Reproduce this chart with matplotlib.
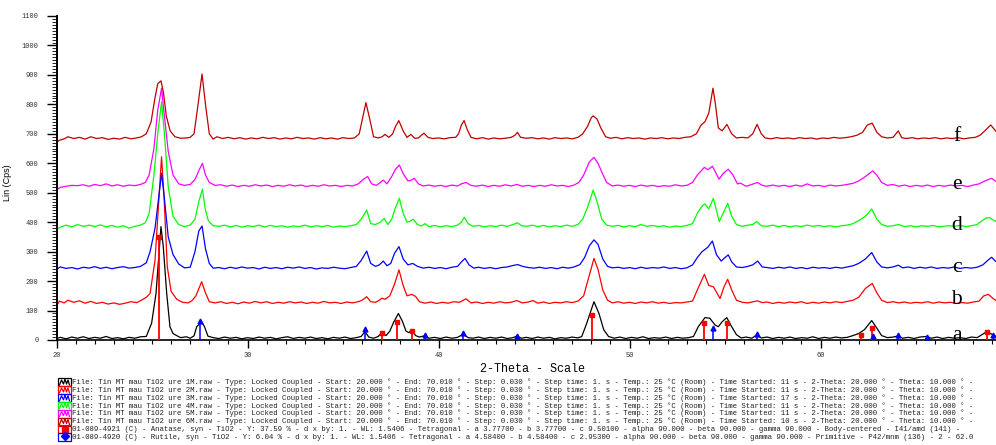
import matplotlib
matplotlib.use('Agg')
import matplotlib.pyplot as plt
from matplotlib.ticker import MultipleLocator, FixedLocator
from matplotlib.patches import Rectangle
from matplotlib.lines import Line2D

# --- Данные (2-Theta, Lin (Cps)) ---
x_a = [20.0, 20.2, 20.5, 20.8, 21.1, 21.4, 21.7, 22.0, 22.3, 22.6, 22.9, 23.2, 23.5, 23.8, 24.1, 24.4, 24.7,
       24.98, 25.21, 25.47, 25.59, 25.77, 25.94, 26.1, 26.29, 26.5, 26.8, 27.0, 27.2, 27.34, 27.6, 27.75, 27.93,
       28.2, 28.5, 28.8, 29.1, 29.4, 29.7, 30.0, 30.3, 30.6, 30.9, 31.2, 31.5, 31.8, 32.1, 32.4, 32.7, 33.0,
       33.3, 33.6, 33.9, 34.2, 34.5, 34.8, 35.1, 35.4, 35.7, 35.95, 36.15, 36.35, 36.6, 36.85, 37.03, 37.25,
       37.45, 37.65, 37.9, 38.1, 38.3, 38.45, 38.6, 38.8, 39.0, 39.25, 39.5, 39.8, 40.1, 40.4, 40.7, 41.0,
       41.3, 41.55, 41.8, 42.1, 42.4, 42.7, 43.0, 43.3, 43.6, 43.9, 44.1, 44.35, 44.6, 44.9, 45.2, 45.5, 45.8,
       46.1, 46.4, 46.7, 47.0, 47.3, 47.5, 47.75, 48.14, 48.4, 48.65, 48.9, 49.2, 49.5, 49.8, 50.1, 50.4,
       50.7, 51.0, 51.3, 51.6, 51.9, 52.2, 52.5, 52.8, 53.1, 53.35, 53.6, 53.95, 54.2, 54.48, 54.65, 54.85,
       55.09, 55.35, 55.6, 55.85, 56.1, 56.4, 56.66, 56.9, 57.2, 57.5, 57.8, 58.1, 58.4, 58.7, 59.0, 59.3,
       59.6, 59.9, 60.2, 60.5, 60.8, 61.1, 61.4, 61.7, 62.0, 62.3, 62.68, 62.95, 63.2, 63.5, 63.8, 64.07,
       64.3, 64.6, 64.9, 65.2, 65.55, 65.8, 66.1, 66.4, 66.7, 67.0, 67.3, 67.6, 67.9, 68.2, 68.45, 68.7,
       68.9, 69.1, 69.3]
y_a = [5, 9, 4, 10, 6, 11, 5, 9, 6, 12, 5, 8, 4, 9, 6, 11, 12,
       57, 158, 385, 317, 158, 45, 22, 15, 8, 11, 6, 14, 45, 62, 45, 13,
       8, 5, 10, 6, 9, 4, 8, 5, 10, 6, 9, 4, 8, 11, 5, 9, 6,
       10, 5, 8, 4, 9, 6, 10, 5, 8, 12, 28, 10, 6, 12, 25, 15,
       30, 60, 90, 65, 30, 25, 34, 15, 10, 14, 6, 9, 5, 10, 6, 9,
       20, 8, 6, 10, 5, 9, 6, 10, 5, 8, 13, 6, 9, 5, 10, 6, 9,
       4, 8, 6, 10, 7, 12, 55, 130, 90, 35, 12, 6, 10, 5, 9, 6,
       11, 5, 8, 6, 10, 5, 9, 6, 8, 12, 45, 76, 74, 51, 45, 62,
       76, 45, 18, 7, 10, 6, 17, 7, 10, 5, 9, 6, 10, 5, 8, 6,
       11, 5, 9, 6, 10, 7, 9, 15, 22, 35, 66, 40, 15, 8, 10, 14,
       6, 9, 5, 10, 12, 6, 10, 5, 9, 6, 8, 5, 10, 8, 18, 28,
       22, 15, 10]

x_b = [20.0, 20.15, 20.4, 20.6, 20.9, 21.2, 21.5, 21.8, 22.1, 22.4, 22.7, 23.0, 23.3, 23.6, 23.9, 24.2, 24.45,
       24.7, 24.9, 25.16, 25.38, 25.5, 25.62, 25.8, 26.0, 26.3, 26.6, 26.9, 27.1, 27.3, 27.6, 27.8, 28.0,
       28.3, 28.6, 28.9, 29.2, 29.5, 29.8, 30.1, 30.4, 30.7, 31.0, 31.3, 31.6, 31.9, 32.2, 32.5, 32.8, 33.1,
       33.4, 33.7, 34.0, 34.3, 34.6, 34.9, 35.2, 35.5, 35.8, 36.0, 36.24, 36.45, 36.7, 36.9, 37.03, 37.2,
       37.45, 37.7, 37.93, 38.15, 38.35, 38.6, 38.8, 39.0, 39.3, 39.6, 39.9, 40.2, 40.5, 40.8, 41.1, 41.44,
       41.7, 42.0, 42.3, 42.6, 42.9, 43.2, 43.5, 43.8, 44.1, 44.4, 44.7, 44.95, 45.2, 45.5, 45.8, 46.1, 46.4,
       46.7, 47.0, 47.3, 47.6, 47.9, 48.14, 48.35, 48.6, 48.85, 49.1, 49.4, 49.7, 50.0, 50.3, 50.6, 50.9,
       51.2, 51.5, 51.8, 52.1, 52.4, 52.7, 53.0, 53.3, 53.55, 53.92, 54.15, 54.39, 54.74, 54.95, 55.14,
       55.35, 55.6, 55.9, 56.2, 56.5, 56.7, 56.95, 57.2, 57.5, 57.8, 58.1, 58.4, 58.7, 59.0, 59.3, 59.6,
       59.9, 60.2, 60.5, 60.8, 61.1, 61.4, 61.7, 62.0, 62.35, 62.71, 62.95, 63.2, 63.5, 63.8, 64.1, 64.4,
       64.7, 65.0, 65.3, 65.6, 65.9, 66.2, 66.5, 66.8, 67.1, 67.4, 67.7, 68.0, 68.3, 68.55, 68.79, 69.05,
       69.3]
y_b = [115, 132, 126, 135, 128, 133, 125, 131, 124, 128, 122, 126, 121, 125, 130, 127, 135,
       145, 158, 272, 498, 622, 498, 249, 165, 138, 128, 126, 134, 150, 198, 160, 130,
       126, 130, 124, 128, 123, 129, 125, 131, 126, 130, 124, 128, 125, 130, 126, 129, 124,
       128, 125, 131, 126, 128, 124, 129, 126, 130, 135, 147, 130, 128, 135, 142, 138,
       150, 190, 238, 185, 150, 155, 148, 130, 125, 129, 124, 128, 125, 130, 128, 140,
       126, 129, 124, 128, 125, 130, 126, 128, 134, 126, 129, 134, 125, 129, 124, 128, 126,
       130, 127, 132, 150, 220, 277, 240, 170, 135, 126, 130, 125, 128, 124, 129, 126,
       130, 125, 128, 124, 127, 126, 129, 132, 170, 223, 185, 181, 141, 181, 206,
       170, 135, 128, 126, 130, 133, 127, 129, 124, 128, 125, 129, 126, 130, 124, 128,
       125, 129, 126, 130, 127, 131, 135, 145, 175, 192, 160, 135, 127, 130, 126, 129,
       125, 128, 126, 130, 125, 129, 126, 128, 124, 127, 125, 129, 132, 150, 155, 140,
       130]

x_c = [20.0, 20.2, 20.5, 20.8, 21.1, 21.4, 21.7, 22.0, 22.3, 22.6, 22.9, 23.2, 23.5, 23.8, 24.1, 24.4, 24.7,
       24.9, 25.16, 25.38, 25.5, 25.65, 25.85, 26.1, 26.4, 26.7, 27.0, 27.25, 27.45, 27.62, 27.8, 28.0, 28.2,
       28.5, 28.8, 29.1, 29.4, 29.7, 30.0, 30.3, 30.6, 30.9, 31.2, 31.5, 31.8, 32.1, 32.4, 32.7, 33.0, 33.3,
       33.6, 33.9, 34.2, 34.5, 34.8, 35.1, 35.4, 35.7, 35.95, 36.24, 36.45, 36.7, 36.9, 37.11, 37.3, 37.5,
       37.7, 37.93, 38.15, 38.4, 38.65, 38.9, 39.2, 39.5, 39.8, 40.1, 40.4, 40.7, 41.0, 41.2, 41.39, 41.6,
       41.85, 42.1, 42.4, 42.7, 43.0, 43.3, 43.6, 43.9, 44.15, 44.4, 44.7, 45.0, 45.3, 45.6, 45.9, 46.2, 46.5,
       46.8, 47.1, 47.4, 47.65, 47.9, 48.14, 48.35, 48.6, 48.85, 49.1, 49.4, 49.7, 50.0, 50.3, 50.6, 50.9,
       51.2, 51.5, 51.8, 52.1, 52.4, 52.7, 53.0, 53.3, 53.55, 53.8, 54.1, 54.34, 54.55, 54.8, 55.0, 55.17,
       55.35, 55.6, 55.9, 56.2, 56.45, 56.71, 56.95, 57.2, 57.5, 57.8, 58.1, 58.4, 58.7, 59.0, 59.3, 59.6,
       59.9, 60.2, 60.5, 60.8, 61.1, 61.4, 61.7, 62.0, 62.35, 62.68, 62.95, 63.2, 63.5, 63.8, 64.07, 64.3,
       64.6, 64.9, 65.2, 65.5, 65.8, 66.1, 66.4, 66.7, 67.0, 67.3, 67.6, 67.9, 68.2, 68.5, 68.75, 68.96,
       69.15, 69.3]
y_c = [240, 248, 243, 246, 241, 247, 244, 249, 243, 247, 242, 246, 249, 244, 246, 250, 262,
       300, 380, 500, 566, 480, 350, 290, 258, 245, 247, 300, 370, 387, 310, 260, 244,
       246, 242, 247, 243, 248, 244, 246, 241, 247, 243, 246, 242, 247, 244, 248, 243, 246,
       241, 245, 243, 247, 244, 242, 246, 250, 270, 302, 260, 250, 255, 268, 252, 260,
       295, 317, 275, 255, 260, 250, 244, 247, 243, 246, 242, 247, 250, 265, 277, 255,
       244, 247, 243, 246, 242, 246, 248, 253, 256, 250, 246, 244, 247, 243, 246, 242, 247,
       244, 248, 256, 280, 320, 340, 325, 275, 250, 245, 247, 243, 246, 242, 247, 243,
       246, 244, 248, 243, 246, 242, 245, 255, 280, 300, 315, 336, 290, 268, 280, 289,
       265, 248, 246, 250, 255, 268, 248, 246, 243, 247, 244, 248, 243, 246, 242, 247,
       244, 246, 243, 247, 244, 248, 252, 260, 275, 297, 265, 248, 245, 248, 254, 245,
       248, 243, 247, 244, 248, 243, 246, 244, 248, 243, 246, 244, 247, 255, 270, 281,
       268, 262]

x_d = [20.0, 20.2, 20.5, 20.8, 21.1, 21.4, 21.7, 22.0, 22.3, 22.6, 22.9, 23.2, 23.5, 23.8, 24.1, 24.4, 24.65,
       24.85, 25.1, 25.3, 25.5, 25.65, 25.85, 26.1, 26.4, 26.7, 27.0, 27.25, 27.45, 27.64, 27.8, 27.95, 28.2,
       28.5, 28.8, 29.1, 29.4, 29.7, 30.0, 30.3, 30.6, 30.9, 31.2, 31.5, 31.8, 32.1, 32.4, 32.7, 33.0, 33.3,
       33.6, 33.9, 34.2, 34.5, 34.8, 35.1, 35.4, 35.7, 35.95, 36.24, 36.45, 36.7, 36.95, 37.16, 37.35, 37.55,
       37.75, 37.95, 38.15, 38.35, 38.5, 38.68, 38.9, 39.1, 39.3, 39.5, 39.8, 40.1, 40.4, 40.7, 41.0, 41.2,
       41.35, 41.55, 41.8, 42.1, 42.4, 42.7, 43.0, 43.3, 43.6, 43.9, 44.13, 44.35, 44.6, 44.9, 45.2, 45.5,
       45.8, 46.1, 46.4, 46.7, 47.0, 47.3, 47.55, 47.8, 48.1, 48.3, 48.55, 48.8, 49.1, 49.4, 49.7, 50.0,
       50.3, 50.6, 50.9, 51.2, 51.5, 51.8, 52.1, 52.4, 52.7, 53.0, 53.3, 53.55, 53.8, 53.95, 54.15, 54.39,
       54.55, 54.7, 54.9, 55.14, 55.35, 55.6, 55.9, 56.2, 56.45, 56.66, 56.9, 57.2, 57.5, 57.8, 58.1, 58.4,
       58.7, 59.0, 59.3, 59.6, 59.9, 60.2, 60.5, 60.8, 61.1, 61.4, 61.7, 62.0, 62.35, 62.68, 62.95, 63.2,
       63.5, 63.8, 64.1, 64.4, 64.7, 65.0, 65.3, 65.6, 65.9, 66.2, 66.7, 67.0, 67.3, 67.6, 67.9, 68.2,
       68.45, 68.7, 68.88, 69.1, 69.3]
y_d = [375, 383, 390, 384, 392, 386, 390, 385, 391, 384, 389, 383, 388, 380, 386, 390, 398,
       430, 560, 700, 809, 700, 520, 420, 392, 385, 390, 410, 470, 512, 440, 405, 388,
       386, 390, 384, 389, 383, 388, 385, 390, 384, 389, 385, 388, 383, 387, 385, 390, 384,
       388, 385, 389, 383, 387, 385, 388, 392, 410, 441, 395, 392, 400, 413, 392, 410,
       450, 481, 430, 400, 403, 410, 392, 387, 395, 385, 389, 384, 388, 385, 390, 400,
       417, 395, 386, 389, 384, 388, 385, 390, 386, 392, 398, 388, 386, 390, 385, 389,
       384, 388, 385, 390, 386, 392, 410, 450, 509, 470, 410, 390, 386, 389, 384, 388,
       385, 392, 386, 389, 385, 388, 383, 387, 385, 389, 395, 430, 455, 462, 445, 481,
       440, 402, 430, 464, 420, 392, 386, 390, 392, 402, 388, 386, 390, 385, 389, 384,
       388, 385, 390, 386, 389, 385, 388, 384, 388, 390, 395, 405, 420, 445, 410, 392,
       386, 388, 392, 385, 388, 384, 388, 386, 389, 384, 388, 386, 389, 385, 388, 392,
       405, 415, 415, 405, 400]

x_e = [20.0, 20.2, 20.5, 20.8, 21.1, 21.4, 21.7, 22.0, 22.3, 22.6, 22.9, 23.2, 23.5, 23.8, 24.1, 24.4, 24.65,
       24.85, 25.1, 25.3, 25.5, 25.65, 25.85, 26.1, 26.4, 26.7, 27.0, 27.25, 27.45, 27.64, 27.8, 28.0, 28.3,
       28.6, 28.9, 29.2, 29.5, 29.8, 30.1, 30.4, 30.7, 31.0, 31.3, 31.6, 31.9, 32.2, 32.5, 32.8, 33.1, 33.4,
       33.7, 34.0, 34.3, 34.6, 34.9, 35.2, 35.5, 35.8, 36.05, 36.29, 36.5, 36.75, 36.95, 37.11, 37.3, 37.55,
       37.75, 37.95, 38.15, 38.4, 38.55, 38.73, 38.95, 39.2, 39.5, 39.8, 40.1, 40.4, 40.7, 41.0, 41.2, 41.44,
       41.7, 42.0, 42.3, 42.6, 42.9, 43.2, 43.5, 43.8, 44.1, 44.4, 44.7, 45.0, 45.3, 45.6, 45.9, 46.2, 46.5,
       46.8, 47.1, 47.35, 47.6, 47.9, 48.14, 48.35, 48.55, 48.8, 49.1, 49.4, 49.7, 50.0, 50.3, 50.6, 50.9,
       51.2, 51.5, 51.8, 52.1, 52.4, 52.7, 53.0, 53.3, 53.55, 53.92, 54.1, 54.34, 54.5, 54.69, 54.9, 55.17,
       55.4, 55.65, 55.8, 56.1, 56.4, 56.7, 56.95, 57.2, 57.5, 57.8, 58.1, 58.4, 58.7, 59.0, 59.3, 59.6,
       59.9, 60.2, 60.5, 60.8, 61.1, 61.4, 61.7, 62.0, 62.35, 62.73, 62.95, 63.2, 63.5, 63.8, 64.1, 64.4,
       64.7, 65.0, 65.3, 65.6, 65.9, 66.2, 66.5, 66.8, 67.1, 67.4, 67.7, 68.0, 68.3, 68.6, 68.96, 69.15,
       69.3]
y_e = [510, 518, 522, 525, 524, 527, 522, 528, 524, 530, 523, 527, 522, 526, 524, 528, 535,
       560, 650, 780, 855, 760, 640, 560, 530, 525, 528, 545, 575, 600, 560, 535, 525,
       527, 522, 526, 521, 525, 522, 527, 523, 526, 521, 525, 522, 527, 523, 526, 521, 525,
       522, 527, 523, 525, 521, 525, 523, 530, 545, 555, 530, 525, 535, 543, 530, 555,
       580, 594, 565, 540, 542, 549, 530, 523, 526, 522, 525, 521, 526, 523, 530, 535,
       525, 522, 526, 521, 525, 522, 527, 523, 528, 522, 525, 521, 525, 522, 527, 523, 525,
       521, 526, 535, 560, 605, 620, 600, 570, 535, 523, 526, 522, 525, 521, 526, 522,
       525, 521, 524, 522, 527, 523, 525, 535, 560, 586, 578, 590, 570, 546, 565, 580,
       562, 530, 533, 522, 528, 535, 525, 522, 526, 522, 525, 521, 526, 522, 530, 523,
       525, 521, 526, 523, 525, 528, 532, 540, 555, 574, 560, 535, 525, 528, 522, 526,
       521, 525, 522, 526, 521, 525, 522, 526, 523, 525, 521, 526, 530, 540, 549, 540,
       535]

x_f = [20.0, 20.15, 20.4, 20.6, 20.9, 21.2, 21.5, 21.8, 22.1, 22.4, 22.7, 23.0, 23.3, 23.6, 23.9, 24.2, 24.45,
       24.7, 24.95, 25.15, 25.3, 25.47, 25.6, 25.75, 25.95, 26.2, 26.5, 26.8, 27.0, 27.2, 27.35, 27.62, 27.8,
       28.0, 28.2, 28.4, 28.7, 29.0, 29.3, 29.6, 29.9, 30.2, 30.5, 30.8, 31.1, 31.4, 31.7, 32.0, 32.3, 32.6,
       32.9, 33.2, 33.5, 33.8, 34.1, 34.4, 34.7, 35.0, 35.3, 35.6, 35.85, 36.05, 36.2, 36.4, 36.6, 36.85,
       37.05, 37.2, 37.4, 37.6, 37.75, 37.92, 38.15, 38.35, 38.55, 38.75, 38.95, 39.1, 39.24, 39.45, 39.7,
       40.0, 40.3, 40.6, 40.9, 41.05, 41.2, 41.34, 41.5, 41.7, 42.0, 42.3, 42.6, 42.9, 43.2, 43.5, 43.8, 44.0,
       44.13, 44.3, 44.6, 44.9, 45.2, 45.5, 45.8, 46.1, 46.4, 46.7, 47.0, 47.3, 47.55, 47.8, 48.0, 48.1, 48.3,
       48.5, 48.75, 49.0, 49.3, 49.6, 49.9, 50.2, 50.5, 50.8, 51.1, 51.4, 51.7, 52.0, 52.3, 52.6, 52.9, 53.2,
       53.5, 53.75, 53.95, 54.15, 54.37, 54.5, 54.65, 54.85, 55.1, 55.35, 55.6, 55.9, 56.2, 56.45, 56.68,
       56.9, 57.1, 57.4, 57.7, 58.0, 58.3, 58.6, 58.9, 59.2, 59.5, 59.8, 60.1, 60.4, 60.7, 61.0, 61.3, 61.6,
       61.9, 62.2, 62.45, 62.71, 62.95, 63.2, 63.5, 63.8, 64.07, 64.25, 64.5, 64.8, 65.1, 65.4, 65.7, 66.0,
       66.3, 66.6, 66.9, 67.2, 67.5, 67.8, 68.1, 68.35, 68.6, 68.91, 69.1, 69.3]
y_f = [670, 678, 683, 690, 684, 688, 682, 690, 684, 687, 681, 685, 682, 688, 683, 686, 690,
       700, 740, 820, 870, 880, 840, 760, 710, 690, 685, 686, 688, 700, 770, 903, 800,
       700, 682, 690, 684, 688, 683, 687, 682, 686, 683, 688, 684, 687, 682, 686, 683, 688,
       684, 686, 682, 687, 683, 686, 682, 687, 684, 686, 700, 760, 806, 750, 690, 686,
       690, 698, 688, 700, 725, 745, 710, 688, 698, 685, 686, 695, 702, 688, 684,
       686, 683, 687, 688, 700, 730, 745, 715, 688, 683, 687, 682, 686, 683, 685, 688, 695,
       705, 688, 685, 687, 683, 686, 682, 687, 684, 686, 683, 688, 700, 725, 755, 761, 750,
       720, 690, 685, 688, 683, 687, 684, 686, 682, 686, 684, 687, 683, 686, 684, 688, 690,
       700, 730, 741, 770, 855, 800, 720, 710, 732, 700, 686, 688, 686, 700, 732,
       700, 686, 683, 687, 684, 686, 683, 687, 684, 686, 682, 686, 684, 688, 685, 687, 690,
       695, 705, 730, 736, 705, 690, 686, 688, 710, 687, 684, 687, 683, 686, 684, 687,
       683, 686, 684, 687, 683, 686, 688, 695, 710, 730, 715, 700]

# штрих-диаграммы эталонов
anatase_pos = [25.38, 37.03, 37.84, 38.63, 48.05, 53.88, 55.10, 62.12, 62.71, 68.70]
anatase_int = [351, 25, 62, 32, 85, 57, 57, 17, 40, 26]
rutile_pos = [27.51, 36.15, 39.29, 41.30, 44.13, 54.36, 56.68, 62.77, 64.07, 65.56, 69.05]
rutile_int = [65, 39, 16, 23, 14, 40, 19, 14, 17, 11, 17]

curve_labels = ['a', 'b', 'c', 'd', 'e', 'f']
label_y = [0, 122, 232, 374, 512, 677]
colors = ['black', '#FF0000', '#0000FF', '#00FF00', '#FF00FF', '#C00000']

sample_names = ['1M', '2M', '3M', '4M', '5M', '6M']
time_started = ['11', '11', '17', '11', '11', '10']
anatase_text = ('01-089-4921 (C) - Anatase, syn - TiO2 - Y: 37.59 % - d x by: 1. - WL: 1.5406 - Tetragonal - '
                'a 3.77700 - b 3.77700 - c 9.50100 - alpha 90.000 - beta 90.000 - gamma 90.000 - '
                'Body-centered - I41/amd (141) -')
rutile_text = ('01-089-4920 (C) - Rutile, syn - TiO2 - Y: 6.04 % - d x by: 1. - WL: 1.5406 - Tetragonal - '
               'a 4.58400 - b 4.58400 - c 2.95300 - alpha 90.000 - beta 90.000 - gamma 90.000 - '
               'Primitive - P42/mnm (136) - 2 - 62.0')

W, H = 996, 445
MONO = ['Liberation Mono', 'DejaVu Sans Mono']
plt.rcParams['font.family'] = ['Liberation Sans', 'DejaVu Sans']

fig = plt.figure(figsize=(W / 100, H / 100), dpi=100)
fig.set_facecolor('white')

# оси в пикселях исходной картинки
ax = fig.add_axes([56.5 / W, 105 / H, 955.2 / W, 324 / H])
ax.set_xlim(20, 70.01)
ax.set_ylim(0, 1100)

xs = [x_a, x_b, x_c, x_d, x_e, x_f]
ys = [y_a, y_b, y_c, y_d, y_e, y_f]
for x, y, c in zip(xs, ys, colors):
    ax.plot(x, y, color=c, lw=0.9, zorder=2)

# эталонные линии
ax.vlines(anatase_pos, 0, anatase_int, color='#FF0000', lw=1.3, zorder=3)
ax.plot(anatase_pos, anatase_int, 's', color='#FF0000', ms=3.5, zorder=3)
ax.vlines(rutile_pos, 0, rutile_int, color='#0000FF', lw=1.1, zorder=3)
ax.plot(rutile_pos, rutile_int, '^', color='#0000FF', ms=3.5, zorder=3)

# подписи a-f
for lab, yy in zip(curve_labels, label_y):
    ax.text(67.13, yy, lab, fontsize=15.5, family='Liberation Serif', ha='center', va='baseline', zorder=4)

# оформление осей
for s in ['top', 'right']:
    ax.spines[s].set_visible(False)
ax.spines['left'].set_linewidth(1.4)
ax.spines['bottom'].set_linewidth(1.2)
ax.xaxis.set_major_locator(FixedLocator([20, 30, 40, 50, 60]))
ax.xaxis.set_minor_locator(MultipleLocator(1))
ax.yaxis.set_major_locator(MultipleLocator(100))
ax.yaxis.set_minor_locator(MultipleLocator(10))
ax.tick_params(axis='x', which='major', length=5.5, width=1, pad=3, labelsize=5, labelcolor='#333333')
ax.tick_params(axis='x', which='minor', length=3, width=0.8)
ax.tick_params(axis='y', which='major', length=7, width=1, pad=6, labelsize=5, labelcolor='#333333')
ax.tick_params(axis='y', which='minor', length=3.5, width=0.6)
for lbl in ax.get_xticklabels() + ax.get_yticklabels():
    lbl.set_family(MONO)
ax.set_ylabel('Lin (Cps)', fontsize=6.5)
ax.yaxis.set_label_coords(-44.5 / 955.2, (340 - 183) / 324)

fig.text(532 / W, 1 - 369 / H, '2-Theta - Scale', fontsize=8.5, family=MONO, ha='center', va='center')


# легенда внизу
def fx(px):
    return px / W


def fy(py):
    return 1 - py / H


legend_lines = []
for name, ts in zip(sample_names, time_started):
    legend_lines.append(f'File: Tin MT mau TiO2 ure {name}.raw - Type: Locked Coupled - Start: 20.000 ° - '
                        f'End: 70.010 ° - Step: 0.030 ° - Step time: 1. s - Temp.: 25 °C (Room) - '
                        f'Time Started: {ts} s - 2-Theta: 20.000 ° - Theta: 10.000 ° -')
legend_lines += [anatase_text, rutile_text]
legend_colors = colors + ['#FF0000', '#0000FF']

for i, (txt, c) in enumerate(zip(legend_lines, legend_colors)):
    cy = 382 + i * 7.9
    fig.add_artist(Rectangle((fx(58), fy(cy + 4)), 13 / W, 8 / H, transform=fig.transFigure,
                             fill=False, ec=c, lw=0.9))
    if i < 6:
        zx = [59.5, 61.5, 63.5, 65, 66.5, 68, 69.5]
        zy = [cy + 3, cy - 2, cy + 2, cy - 3, cy + 2, cy - 2, cy + 3]
        fig.add_artist(Line2D([fx(v) for v in zx], [fy(v) for v in zy], transform=fig.transFigure,
                              color=c, lw=0.9))
    elif i == 6:
        fig.add_artist(Rectangle((fx(61.5), fy(cy + 2.5)), 6 / W, 5 / H, transform=fig.transFigure,
                                 color=c))
    else:
        fig.add_artist(Line2D([fx(64.5)], [fy(cy - 1)], marker='D', ms=4, color=c,
                              transform=fig.transFigure))
    fig.text(fx(72), fy(cy), txt, fontsize=5.3, family=MONO, ha='left', va='center', color='#222222')

plt.savefig('out.png', dpi=100)
